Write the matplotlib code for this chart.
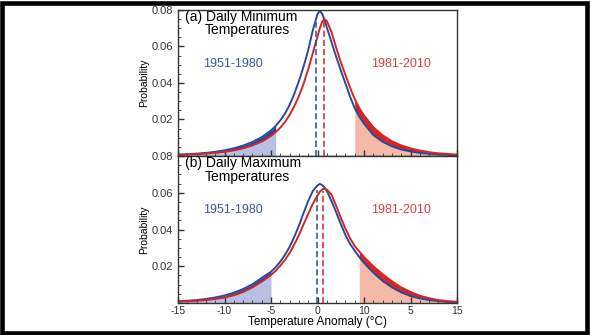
import numpy as np
import matplotlib
matplotlib.use("Agg")
import matplotlib.pyplot as plt
from matplotlib.patches import Rectangle

plt.rcParams['font.family'] = ['Liberation Sans', 'DejaVu Sans']

# temperature anomaly grid (degC)
t = [-15, -14, -13, -12, -11, -10, -9, -8, -7, -6, -5, -4.5, -4, -3.5, -3, -2.5,
     -2, -1.5, -1, -0.5, 0, 0.25, 0.5, 0.75, 1, 1.5, 2, 2.5, 3, 3.5, 4, 4.5, 5,
     6, 7, 8, 9, 10, 11, 12, 13, 14, 15]

# (a) daily minimum temperatures
min_1951 = [0.0008, 0.0010, 0.0013, 0.0017, 0.0023, 0.0031, 0.0042, 0.0057, 0.0077, 0.0103,
            0.0140, 0.0165, 0.0195, 0.0232, 0.0280, 0.0340, 0.0410, 0.0490, 0.0580, 0.0690,
            0.0778, 0.0795, 0.0780, 0.0745, 0.0705, 0.0625, 0.0545, 0.0470, 0.0398, 0.0325,
            0.0262, 0.0215, 0.0177, 0.0115, 0.0078, 0.0053, 0.0036, 0.0025, 0.0017, 0.0012,
            0.0008, 0.0006, 0.0004]
min_1981 = [0.0006, 0.0008, 0.0010, 0.0013, 0.0017, 0.0023, 0.0031, 0.0042, 0.0058, 0.0079,
            0.0110, 0.0131, 0.0155, 0.0186, 0.0225, 0.0272, 0.0328, 0.0395, 0.0475, 0.0565,
            0.0655, 0.0700, 0.0735, 0.0750, 0.0740, 0.0680, 0.0595, 0.0515, 0.0445, 0.0375,
            0.0312, 0.0262, 0.0222, 0.0158, 0.0113, 0.0081, 0.0058, 0.0042, 0.0030, 0.0021,
            0.0015, 0.0011, 0.0008]

# (b) daily maximum temperatures
max_1951 = [0.0009, 0.0012, 0.0016, 0.0022, 0.0030, 0.0041, 0.0056, 0.0076, 0.0102, 0.0136,
            0.0170, 0.0195, 0.0225, 0.0262, 0.0305, 0.0360, 0.0420, 0.0490, 0.0555, 0.0610,
            0.0640, 0.0648, 0.0642, 0.0628, 0.0610, 0.0555, 0.0495, 0.0430, 0.0370, 0.0322,
            0.0285, 0.0250, 0.0218, 0.0165, 0.0120, 0.0085, 0.0058, 0.0038, 0.0025, 0.0016,
            0.0010, 0.0006, 0.0004]
max_1981 = [0.0007, 0.0009, 0.0012, 0.0016, 0.0022, 0.0030, 0.0042, 0.0060, 0.0085, 0.0116,
            0.0152, 0.0175, 0.0203, 0.0235, 0.0272, 0.0318, 0.0370, 0.0428, 0.0485, 0.0540,
            0.0585, 0.0605, 0.0618, 0.0622, 0.0618, 0.0590, 0.0530, 0.0465, 0.0405, 0.0352,
            0.0310, 0.0280, 0.0250, 0.0200, 0.0157, 0.0118, 0.0085, 0.0060, 0.0040, 0.0026,
            0.0016, 0.0010, 0.0007]

# means (dashed lines) and tail thresholds
mean_min = [-0.15, 0.7]
mean_max = [-0.1, 0.62]
cold_min, warm_min = -4.5, 4.0
cold_max, warm_max = -5.0, 4.5

xtick_pos = [-15, -10, -5, 0, 5, 10, 15]
xtick_lab = ['-15', '-10', '-5', '0', '10', '5', '15']

BLUE = '#2a4b9b'
RED = '#d42626'
LBLUE = '#b9bee3'
LRED = '#f5b9a8'

fig = plt.figure(figsize=(5.9, 3.35), dpi=100)
ax1 = fig.add_axes([178/590, 1-156/335, 279/590, 146/335])
ax2 = fig.add_axes([178/590, 1-303/335, 279/590, 147/335])

x = np.array(t)


def panel(ax, blue, red, means, cold, warm, tag, line1, yticks):
    b = np.array(blue)
    r = np.array(red)
    lo = x <= cold
    hi = x >= warm
    ax.fill_between(x, 0, np.minimum(b, r), where=lo, color=LBLUE, lw=0)
    ax.fill_between(x, r, b, where=lo, color=BLUE, lw=0)
    ax.fill_between(x, 0, np.minimum(b, r), where=hi, color=LRED, lw=0)
    ax.fill_between(x, b, r, where=hi, color=RED, lw=0)
    ax.plot(x, b, color=BLUE, lw=1.4)
    ax.plot(x, r, color=RED, lw=1.4)
    ax.vlines(means[0], 0, np.interp(means[0], x, b) - 0.002, color=BLUE, lw=1.1, linestyles=(0, (4, 2)))
    ax.vlines(means[1], 0, np.interp(means[1], x, r) - 0.001, color=RED, lw=1.1, linestyles=(0, (4, 2)))
    ax.set_xlim(-15, 15)
    ax.set_ylim(0, 0.08)
    ax.set_yticks(yticks)
    ax.set_yticks(np.arange(0.005, 0.08, 0.005), minor=True)
    ax.set_xticks(xtick_pos)
    ax.set_xticks(np.arange(-15, 16, 1), minor=True)
    ax.tick_params(which='both', direction='in', top=False, right=False,
                   labelsize=8, labelcolor='#333333', color='#333333')
    ax.tick_params(axis='x', labelsize=7.5, pad=2)
    ax.tick_params(which='major', length=4, width=1)
    ax.tick_params(which='minor', length=2, width=0.6)
    ax.set_ylabel('Probability', fontsize=7.5, labelpad=2)
    for s in ax.spines.values():
        s.set_color('#333333')
        s.set_linewidth(1.0)
    ax.text(-14.3, 0.0762, tag + ' ' + line1, fontsize=10, va='center', ha='left')
    ax.text(-12.1, 0.0688, 'Temperatures', fontsize=10, va='center', ha='left')
    ax.text(-9.1, 0.0505, '1951-1980', color='#3b59a6', fontsize=9, ha='center', va='center')
    ax.text(9.0, 0.0505, '1981-2010', color='#d64040', fontsize=9, ha='center', va='center')


panel(ax1, min_1951, min_1981, mean_min, cold_min, warm_min,
      '(a)', 'Daily Minimum', [0.02, 0.04, 0.06, 0.08])
panel(ax2, max_1951, max_1981, mean_max, cold_max, warm_max,
      '(b)', 'Daily Maximum', [0.02, 0.04, 0.06, 0.08])

ax1.set_xticklabels([])
ax2.set_xticklabels(xtick_lab)
ax2.set_xlabel('Temperature Anomaly (\u00b0C)', fontsize=8.5, labelpad=0.5)

# thick black frame around the figure
fig.patches.append(Rectangle((2.2/590, 2.5/335), 585/590, 330/335, transform=fig.transFigure,
                             fill=False, edgecolor='black', lw=3.3))

fig.savefig('out.png', dpi=100)
